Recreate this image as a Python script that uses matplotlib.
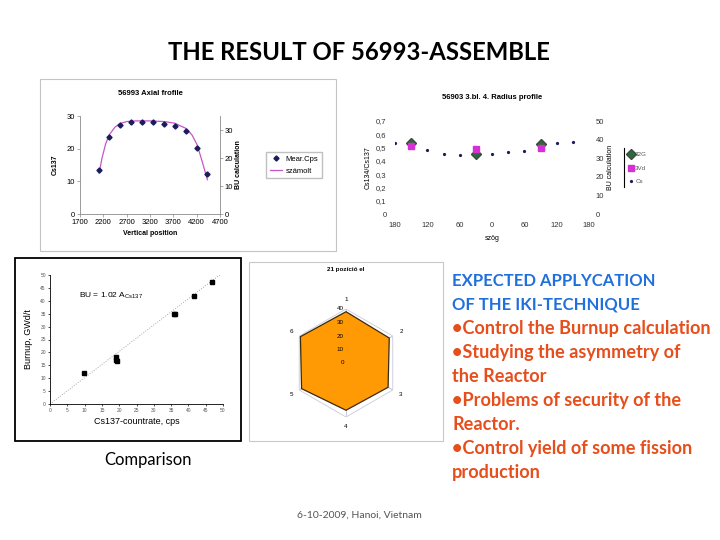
import matplotlib
matplotlib.use('Agg')
import matplotlib.pyplot as plt
from matplotlib.patches import Rectangle
import numpy as np

# --- axial profile (56993) ---
axial_pos = [2110, 2330, 2560, 2790, 3030, 3260, 3500, 3730, 3970, 4210, 4420]
axial_cps = [13.6, 23.7, 27.2, 28.3, 28.3, 28.3, 27.7, 27.0, 25.3, 20.1, 12.1]
calc_pos = [2110, 2170, 2250, 2330, 2450, 2560, 2700, 2900, 3200, 3500, 3730, 3970, 4100, 4210, 4320, 4430]
calc_val = [12.5, 17.0, 21.5, 24.3, 26.6, 27.7, 28.3, 28.5, 28.5, 28.3, 27.8, 26.2, 24.2, 21.2, 16.0, 10.5]

# --- radius profile ---
cs_angle = [-180, -150, -120, -90, -60, -30, 0, 30, 60, 90, 120, 150]
cs_ratio = [0.538, 0.528, 0.485, 0.45, 0.443, 0.46, 0.45, 0.465, 0.475, 0.52, 0.538, 0.54]
bu_angle = [-150, -30, 90]
bu_32g = [38.4, 32.1, 37.5]
bu_3vd = [36.6, 34.8, 35.4]

# --- comparison ---
cs_rate = [9.9, 19.2, 19.2, 19.5, 35.7, 36.1, 41.5, 46.8]
burnup = [12.0, 18.4, 17.1, 16.5, 34.9, 34.9, 41.9, 47.4]
fit_x = [0, 50]
fit_slope = 1.02

# --- radar ---
radar_labels = ['1', '2', '3', '4', '5', '6']
radar_vals = [38.0, 37.0, 36.0, 35.0, 38.0, 39.0]
radar_rings = [10, 20, 30, 40]

blue = '#1f6fdc'
red = '#e64e1c'
bullets = [
    ('EXPECTED APPLYCATION', blue),
    ('OF THE IKI-TECHNIQUE', blue),
    ('\u2022Control the Burnup calculation', red),
    ('\u2022Studying the asymmetry of', red),
    ('the Reactor', red),
    ('\u2022Problems of security of the', red),
    ('Reactor.', red),
    ('\u2022Control yield of some fission', red),
    ('production', red),
]

W, H = 720, 540
plt.rcParams['font.family'] = ['Liberation Sans', 'DejaVu Sans']
fig = plt.figure(figsize=(7.2, 5.4), dpi=100)


def box(l, t, r, b):
    return [l / W, 1 - b / H, (r - l) / W, (b - t) / H]


def fx(x):
    return x / W


def fy(y):
    return 1 - y / H


def frame(l, t, r, b, color, lw):
    fig.patches.append(Rectangle((fx(l), fy(b)), (r - l) / W, (b - t) / H, fill=False,
                                 edgecolor=color, linewidth=lw, transform=fig.transFigure))


slide_font = ['Lato', 'DejaVu Sans']
fig.text(fx(359), fy(52), 'THE RESULT OF 56993-ASSEMBLE', family=slide_font, fontweight='bold',
         fontsize=17.2, ha='center', va='center')

# ---------- axial profile ----------
frame(40, 79, 336, 251, '#c4c4c4', 0.8)
ax1 = fig.add_axes(box(80, 116, 220, 214))
ax1.plot(calc_pos, calc_val, color='#c855c8', lw=0.9, label='számolt', zorder=2)
ax1.plot(axial_pos, axial_cps, ls='none', marker='D', ms=2.6, color='#1c1c5c', label='Mear.Cps', zorder=3)
ax1.set_xlim(1700, 4700)
ax1.set_ylim(0, 30)
ax1.set_xticks(range(1700, 4701, 500))
ax1.set_yticks([0, 10, 20, 30])
for s in ['top', 'right']:
    ax1.spines[s].set_visible(False)
for s in ['left', 'bottom']:
    ax1.spines[s].set_color('#8a8a8a')
    ax1.spines[s].set_linewidth(0.6)
ax1.tick_params(labelsize=5.5, length=2, width=0.5, color='#8a8a8a', pad=1.5)
ax1.set_ylabel('Cs137', fontsize=5, fontweight='bold', labelpad=6)
ax1.set_xlabel('Vertical position', fontsize=5, fontweight='bold', labelpad=3)
ax1.set_title('56993 Axial frofile', fontsize=5.5, fontweight='bold', pad=15)
ax1r = ax1.twinx()
ax1r.set_ylim(0, 35)
ax1r.set_yticks([0, 10, 20, 30])
for s in ['top', 'left', 'bottom']:
    ax1r.spines[s].set_visible(False)
ax1r.spines['right'].set_color('#8a8a8a')
ax1r.spines['right'].set_linewidth(0.6)
ax1r.tick_params(labelsize=5.5, length=2, width=0.5, color='#8a8a8a', pad=1.5)
ax1r.set_ylabel('BU calculation', fontsize=5, fontweight='bold', labelpad=1)
h1, l1 = ax1.get_legend_handles_labels()
fig.legend(h1[::-1], l1[::-1], loc='center left', bbox_to_anchor=(fx(262), fy(165)), fontsize=5.5,
           frameon=True, fancybox=False, edgecolor='#c0c0c0', framealpha=1, handlelength=1.6,
           handletextpad=0.5, borderpad=0.5, labelspacing=0.6)

# ---------- radius profile ----------
ax2 = fig.add_axes(box(395, 121, 589, 214))
ax2.plot(cs_angle, cs_ratio, ls='none', marker='o', ms=1.3, color='#1c1c5c', label='Cs', zorder=3)
ax2.set_xlim(-180, 180)
ax2.set_ylim(0, 0.7)
ax2.set_xticks(range(-180, 181, 60))
ax2.set_xticklabels([str(abs(v)) for v in range(-180, 181, 60)])
yt = [i / 10 for i in range(8)]
ax2.set_yticks(yt)
ax2.set_yticklabels(['0'] + [f'{v:.1f}'.replace('.', ',') for v in yt[1:]])
for s in ax2.spines.values():
    s.set_visible(False)
ax2.tick_params(labelsize=5.5, length=0, pad=6, labelcolor='#333333')
ax2.set_ylabel('Cs134/Cs137', fontsize=5, labelpad=3)
ax2.set_xlabel('szög', fontsize=5, labelpad=4)
ax2.set_title('56903 3.bl. 4. Radius profile', fontsize=5.5, fontweight='bold', pad=15.5)
ax2r = ax2.twinx()
ax2r.set_ylim(0, 50)
ax2r.set_yticks(range(0, 51, 10))
for s in ax2r.spines.values():
    s.set_visible(False)
ax2r.tick_params(labelsize=5.5, length=0, pad=5, labelcolor='#333333')
ax2r.set_ylabel('BU calculation', fontsize=5, labelpad=2)
ax2r.plot(bu_angle, bu_32g, ls='none', marker='D', ms=4.6, color='#2d6a36', mec='#3c4a46', label='32G', zorder=4)
ax2r.plot(bu_angle, bu_3vd, ls='none', marker='s', ms=4.0, color='#d52fd5', label='3Vd', zorder=5)
h2a, l2a = ax2r.get_legend_handles_labels()
h2b, l2b = ax2.get_legend_handles_labels()
fig.legend(h2a + h2b, l2a + l2b, loc='center left', bbox_to_anchor=(fx(624), fy(168)), fontsize=4.5,
           frameon=False, handlelength=0.8, handletextpad=0.3, labelspacing=1.3, borderpad=0.2,
           labelcolor='#555555')
fig.lines.append(plt.Line2D([fx(624), fx(624)], [fy(148), fy(187)], color='black', lw=0.8,
                            transform=fig.transFigure))

# ---------- comparison ----------
frame(15, 258, 241, 441, 'black', 1.3)
ax3 = fig.add_axes(box(50, 275, 223, 404))
ax3.plot(fit_x, [fit_slope * v for v in fit_x], ls=(0, (1, 2)), color='#888888', lw=0.6)
ax3.plot(cs_rate, burnup, ls='none', marker='s', ms=2.4, color='black')
ax3.set_xlim(0, 50)
ax3.set_ylim(0, 50)
ax3.set_xticks(range(0, 51, 5))
ax3.set_yticks(range(0, 51, 5))
for s in ['top', 'right']:
    ax3.spines[s].set_visible(False)
for s in ['left', 'bottom']:
    ax3.spines[s].set_linewidth(0.6)
ax3.tick_params(labelsize=3.5, length=1.5, width=0.5, pad=1.5, labelcolor='#555555')
ax3.set_xlabel('Cs137-countrate, cps', fontsize=6.5, labelpad=3)
ax3.set_ylabel('Burnup, GWd/t', fontsize=6.5, labelpad=5)
ax3.text(8.4, 41.9, r'BU = 1.02 A$_{\mathregular{Cs137}}$', fontsize=6, ha='left', va='center')
fig.text(fx(148), fy(460), 'Comparison', family=slide_font, fontsize=12, ha='center', va='center')

# ---------- radar ----------
frame(249, 262, 443, 441, '#c8c8c8', 0.8)
fig.text(fx(346), fy(270), '21 pozíció el', fontsize=4.5, fontweight='bold', ha='center', va='center')
ax4 = fig.add_axes(box(292, 309, 400, 417), projection='polar')
ax4.set_theta_offset(np.pi / 2)
ax4.set_theta_direction(-1)
theta = np.linspace(0, 2 * np.pi, len(radar_labels), endpoint=False)
closed = np.append(theta, theta[0])
for r in radar_rings:
    ax4.plot(closed, [r] * len(closed), color='#c9c9dc', lw=0.6, zorder=1)
for t in theta:
    ax4.plot([t, t + np.pi], [radar_rings[-1], radar_rings[-1]], color='#c9c9dc', lw=0.6, zorder=1)
ax4.fill(closed, np.append(radar_vals, radar_vals[0]), facecolor='#ff9a05', edgecolor='#3a2a10',
         lw=0.9, zorder=2)
ax4.set_ylim(0, 40)
ax4.grid(False)
ax4.spines['polar'].set_visible(False)
ax4.set_xticks([])
ax4.set_yticks([])
ax4.patch.set_alpha(0)
for t, lab in zip(theta, radar_labels):
    ax4.text(t, 47, lab, fontsize=4.5, ha='center', va='center', clip_on=False)
for r in [0] + radar_rings:
    ax4.annotate(str(r), (0, r), xytext=(-1.5, 0), textcoords='offset points', fontsize=4.5,
                 ha='right', va='center', zorder=3)

# ---------- text panel ----------
for i, (line, col) in enumerate(bullets):
    size = 12 if col == blue else 13.1
    fig.text(fx(452), fy(281 + 23.9 * i), line, family=slide_font, fontweight='bold', fontsize=size,
             color=col, ha='left', va='center')

fig.text(fx(359), fy(515), '6-10-2009, Hanoi, Vietnam', family=slide_font, fontsize=7.5,
         color='#555555', ha='center', va='center')

fig.savefig('out.png', dpi=100)
